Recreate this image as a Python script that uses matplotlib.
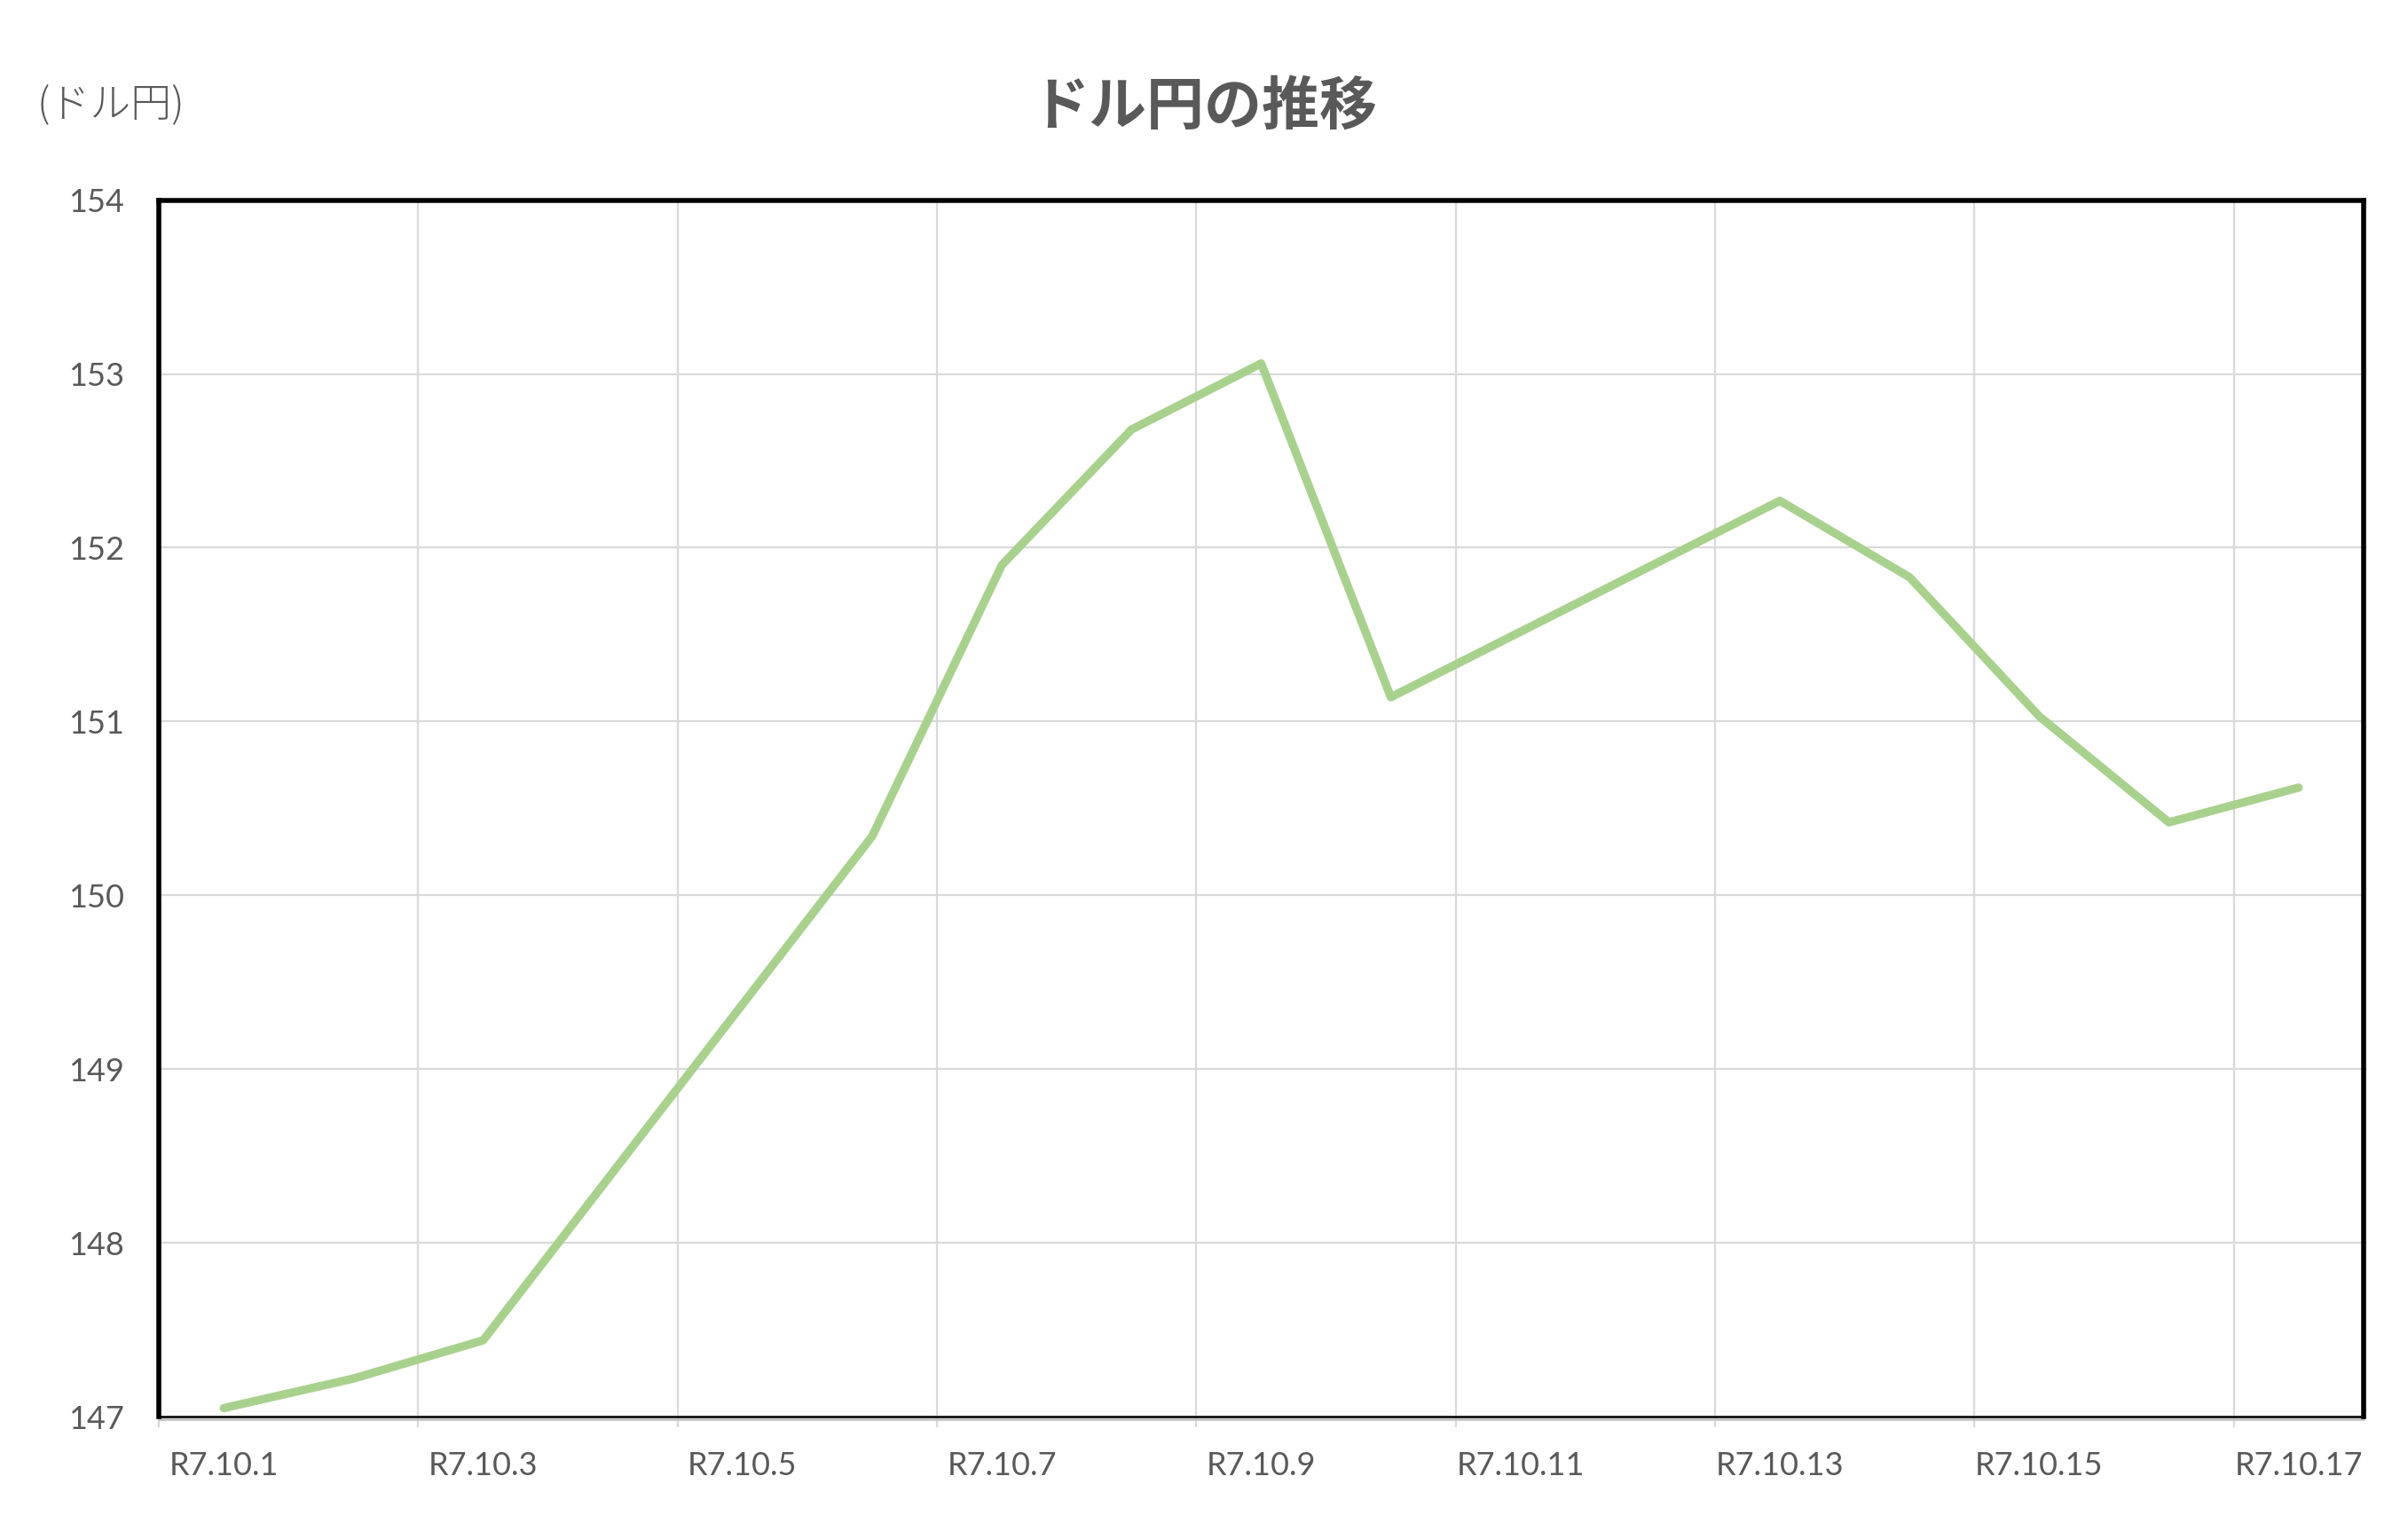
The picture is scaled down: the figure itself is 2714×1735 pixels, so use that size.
import matplotlib
matplotlib.use("Agg")
import matplotlib.pyplot as plt
from matplotlib.lines import Line2D
from matplotlib import transforms

plt.rcParams['font.family'] = ['Lato', 'Noto Sans CJK JP', 'DejaVu Sans']

# 営業日ごとのドル円レート (R7 = 2025年10月)
days = [1, 2, 3, 6, 7, 8, 9, 10, 13, 14, 15, 16, 17]
rates = [147.05, 147.22, 147.44, 150.34, 151.90, 152.68, 153.06,
         151.14, 152.27, 151.83, 151.03, 150.42, 150.62]
label_days = [1, 3, 5, 7, 9, 11, 13, 15, 17]
x_labels = ['R7.10.%d' % d for d in label_days]
y_ticks = [147, 148, 149, 150, 151, 152, 153, 154]

text_col = '#595959'
grid_col = '#D9D9D9'

fig = plt.figure(figsize=(13.57, 8.675), dpi=200)
ax = fig.add_axes([0.066, 0.0794, 0.9155, 0.7906])

ax.plot(days, rates, color='#A9D18E', lw=3.4,
        solid_capstyle='round', solid_joinstyle='round', zorder=3)

ax.set_xlim(0.5, 17.5)
ax.set_ylim(147, 154)

# gridlines / ticks sit on the category boundaries
bounds = [d - 0.5 for d in label_days]
ax.set_xticks(bounds)
ax.set_xticklabels([])
ax.set_xticks(label_days, minor=True)
ax.set_xticklabels(x_labels, minor=True)
ax.tick_params(axis='x', which='major', length=4.3, width=0.8,
               color=grid_col, direction='out')
ax.tick_params(axis='x', which='minor', length=0, pad=14,
               labelsize=13, labelcolor=text_col)

ax.set_yticks(y_ticks)
ax.tick_params(axis='y', length=0, pad=14, labelsize=13, labelcolor=text_col)

ax.grid(True, which='major', color=grid_col, lw=0.8, zorder=0)
ax.set_axisbelow(True)

for side in ['left', 'right', 'top']:
    ax.spines[side].set_color('black')
    ax.spines[side].set_linewidth(2.0)
ax.spines['bottom'].set_color('black')
ax.spines['bottom'].set_linewidth(0.9)

# gray category axis line just under the plot frame
off = transforms.offset_copy(ax.transAxes, fig=fig, y=-3, units='dots')
ax.add_line(Line2D([0, 1], [0, 0], transform=off, color='#BFBFBF',
                   lw=0.9, clip_on=False))

fig.text(0.5, 0.930, 'ドル円の推移', ha='center', va='center',
         fontsize=23.4, fontweight='bold', color=text_col,
         family=['Noto Sans CJK JP', 'DejaVu Sans'])
fig.text(0.0155, 0.932, '(ドル円)', ha='left', va='center',
         fontsize=16.5, color=text_col, fontweight='light',
         family=['Noto Sans CJK JP', 'DejaVu Sans'])

fig.savefig('out.png', dpi=200, facecolor='white')
